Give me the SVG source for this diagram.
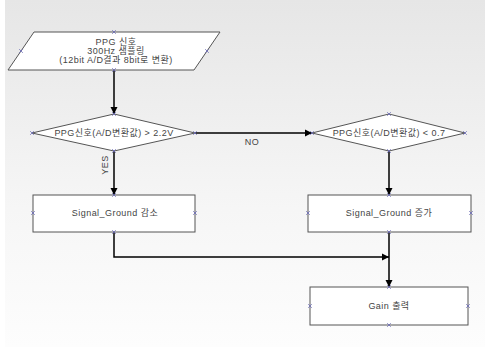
<svg xmlns="http://www.w3.org/2000/svg" width="485" height="347" viewBox="0 0 485 347">
<defs>
<linearGradient id="bg" x1="0" y1="0" x2="0" y2="1">
<stop offset="0" stop-color="#e6e6e6"/>
<stop offset="0.6" stop-color="#f6f6f6"/>
<stop offset="1" stop-color="#fdfdfd"/>
</linearGradient>
<marker id="arr" markerWidth="8" markerHeight="8" refX="7" refY="4" orient="auto" markerUnits="userSpaceOnUse">
<path d="M0,0.5 L7,4 L0,7.5 Z" fill="#000"/>
</marker>
<path id="xm" d="M-1.8,-1.8 L1.8,1.8 M-1.8,1.8 L1.8,-1.8" stroke="#6a6ab4" stroke-width="0.8" fill="none"/>
</defs>
<style>
.n{fill:#fff;stroke:#555;stroke-width:1}
.c{fill:none;stroke:#000;stroke-width:1.5}
text{font-family:"Liberation Sans","Noto Sans CJK KR",sans-serif;font-size:9px;letter-spacing:0.45px;fill:#444;text-anchor:middle}
</style>
<rect x="0" y="0" width="485" height="347" fill="url(#bg)"/>
<rect x="0" y="0" width="5" height="347" fill="#fff"/>
<g id="connectors">
<line class="c" x1="114" y1="70" x2="114" y2="114" marker-end="url(#arr)"/>
<line class="c" x1="195" y1="133" x2="312" y2="133" marker-end="url(#arr)"/>
<line class="c" x1="114" y1="151" x2="114" y2="195" marker-end="url(#arr)"/>
<line class="c" x1="389" y1="151" x2="389" y2="195" marker-end="url(#arr)"/>
<polyline class="c" points="114,232 114,257 389,257" marker-end="url(#arr)"/>
<line class="c" x1="389" y1="232" x2="389" y2="287" marker-end="url(#arr)"/>
<text x="252" y="145">NO</text>
<text transform="translate(108,165) rotate(-90)">YES</text>
</g>
<g id="input">
<polygon class="n" points="34,32 220,32 194,70 8,70"/>
<text x="116" y="45">PPG 신호</text>
<text x="116" y="54">300Hz 샘플링</text>
<text x="116" y="63">(12bit A/D결과 8bit로 변환)</text>
<use href="#xm" x="114" y="32"/><use href="#xm" x="21" y="51"/><use href="#xm" x="207" y="51"/><use href="#xm" x="114" y="70"/>
</g>
<g id="decision1">
<polygon class="n" points="32,133 114,114 195,133 114,151"/>
<text x="114" y="136">PPG신호(A/D변환값) &gt; 2.2V</text>
<use href="#xm" x="32" y="133"/><use href="#xm" x="114" y="114"/><use href="#xm" x="195" y="133"/><use href="#xm" x="114" y="151"/>
</g>
<g id="decision2">
<polygon class="n" points="312,133 389,114 465,133 389,151"/>
<text x="389" y="136">PPG신호(A/D변환값) &lt; 0.7</text>
<use href="#xm" x="312" y="133"/><use href="#xm" x="389" y="114"/><use href="#xm" x="465" y="133"/><use href="#xm" x="389" y="151"/>
</g>
<g id="decrease">
<rect class="n" x="33" y="195" width="162" height="37"/>
<text x="115" y="216">Signal_Ground 감소</text>
<use href="#xm" x="33" y="213"/><use href="#xm" x="114" y="195"/><use href="#xm" x="195" y="213"/><use href="#xm" x="114" y="232"/>
</g>
<g id="increase">
<rect class="n" x="308" y="195" width="163" height="37"/>
<text x="389" y="216">Signal_Ground 증가</text>
<use href="#xm" x="308" y="213"/><use href="#xm" x="389" y="195"/><use href="#xm" x="471" y="213"/><use href="#xm" x="389" y="232"/>
</g>
<g id="gain">
<rect class="n" x="310" y="287" width="158" height="38"/>
<text x="389" y="309">Gain 출력</text>
<use href="#xm" x="310" y="306"/><use href="#xm" x="389" y="287"/><use href="#xm" x="468" y="306"/><use href="#xm" x="389" y="325"/>
</g>
</svg>
